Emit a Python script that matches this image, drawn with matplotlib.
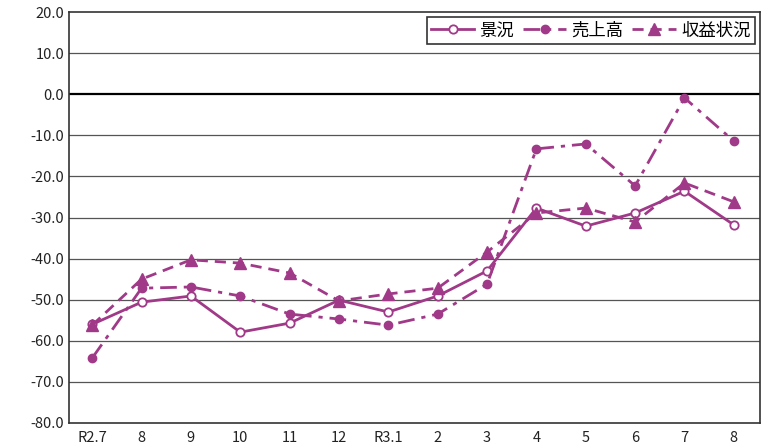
import numpy as np
import matplotlib
matplotlib.use('Agg')
import matplotlib.pyplot as plt

plt.rcParams['font.family'] = ['Noto Sans CJK JP', 'DejaVu Sans']

# data
months = ['R2.7', '8', '9', '10', '11', '12', 'R3.1', '2', '3', '4', '5', '6', '7', '8']
keikyo = [-56.0, -50.6, -49.1, -57.9, -55.7, -50.1, -53.0, -49.1, -43.0, -27.7, -32.1, -28.9, -23.6, -31.8]
uriage = [-64.2, -47.2, -46.9, -49.1, -53.5, -54.7, -56.2, -53.5, -46.2, -13.3, -12.1, -22.3, -0.9, -11.4]
shueki = [-56.2, -45.0, -40.3, -41.1, -43.5, -50.3, -48.6, -47.2, -38.4, -28.9, -27.7, -31.1, -21.6, -26.2]
labels = ['景況', '売上高', '収益状況']

col = '#a03a88'
x = np.arange(len(months))

fig = plt.figure(figsize=(7.63, 4.46), dpi=100)
ax = fig.add_axes([69/763, 1 - 423/446, (760-69)/763, (423-12)/446])

# grid
for yv in range(-70, 20, 10):
    if yv == 0:
        ax.axhline(yv, color='black', lw=1.6, zorder=1)
    else:
        ax.axhline(yv, color='#555555', lw=0.9, zorder=1)

ax.plot(x, keikyo, color=col, lw=2, marker='o', ms=6, mfc='white', mec=col, mew=1.3, label=labels[0], zorder=3)
ax.plot(x, uriage, color=col, lw=2, ls=(0, (6, 2.5, 1.5, 2.5)), marker='o', ms=6, mfc=col, mec=col, label=labels[1], zorder=3)
ax.plot(x, shueki, color=col, lw=2, ls=(0, (4, 2.5)), marker='^', ms=8.5, mfc=col, mec=col, label=labels[2], zorder=3)

ax.set_xlim(-0.47, 13.53)
ax.set_ylim(-80, 20)
ax.set_yticks(np.arange(-80, 21, 10))
ax.set_yticklabels(['%.1f' % v for v in np.arange(-80, 21, 10)])
ax.set_xticks(x)
ax.set_xticklabels(months)
ax.tick_params(length=0, labelsize=10.5, colors='#222222')
ax.tick_params(axis='x', pad=6)
for s in ax.spines.values():
    s.set_color('#333333')
    s.set_linewidth(1.2)

leg = ax.legend(loc='upper right', ncol=3, fontsize=12.5, frameon=True, fancybox=False,
                edgecolor='black', handlelength=2.5, columnspacing=0.5, handletextpad=0.3,
                borderaxespad=0.3, borderpad=0.25)
leg.get_frame().set_linewidth(1.2)

fig.savefig('out.png', dpi=100)
